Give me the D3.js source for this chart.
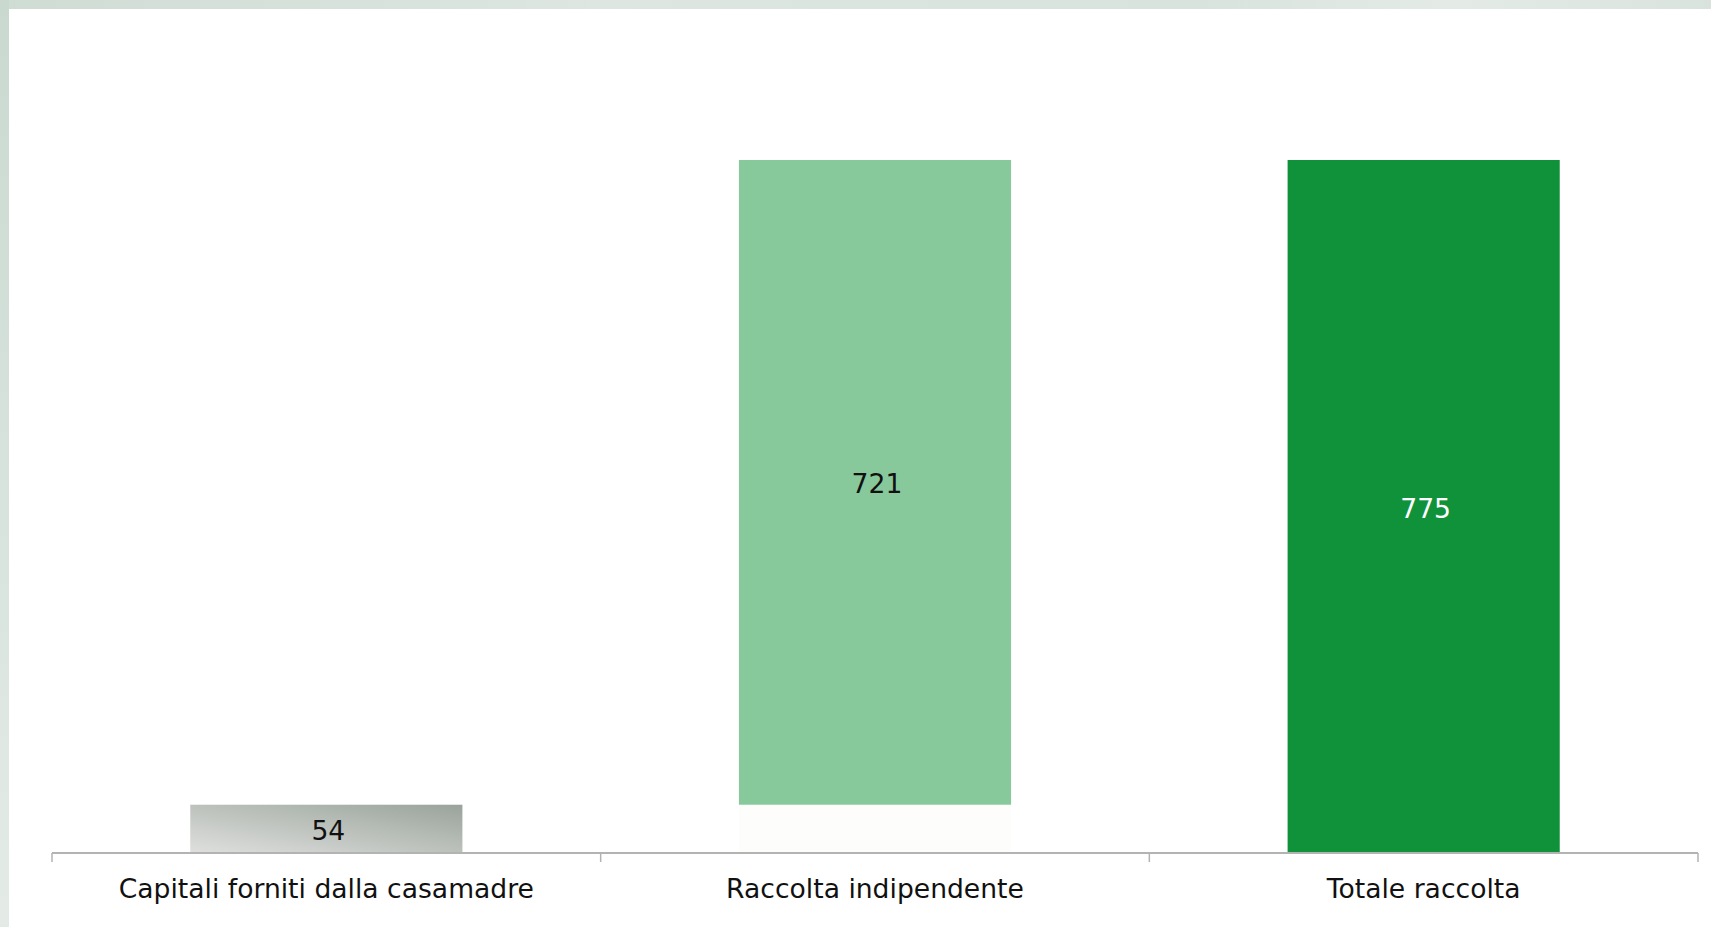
<!DOCTYPE html>
<html>
<head>
<meta charset="utf-8">
<script src="https://cdn.jsdelivr.net/npm/d3@7"></script>
<style>
html,body{margin:0;padding:0;background:#fff;overflow:hidden;}
svg{display:block;}
</style>
</head>
<body>
<svg id="chart" width="1711" height="927"></svg>
<script>
const categories = ["Capitali forniti dalla casamadre", "Raccolta indipendente", "Totale raccolta"];
const values = [54, 721, 775];
const bases = [0, 54, 0];
const barColors = ["url(#grayGrad)", "#88c99c", "#10923b"];
const labelColors = ["#111", "#111", "#ffffff"];

const W = 1711, H = 927;
const svg = d3.select("#chart");
const defs = svg.append("defs");

const lg = defs.append("linearGradient").attr("id", "leftStrip").attr("x1", 0).attr("y1", 0).attr("x2", 0).attr("y2", 1);
lg.append("stop").attr("offset", "0%").attr("stop-color", "#c9d9d0");
lg.append("stop").attr("offset", "100%").attr("stop-color", "#e4ebe7");

const tg = defs.append("linearGradient").attr("id", "topStrip").attr("x1", 0).attr("y1", 0).attr("x2", 1).attr("y2", 0);
tg.append("stop").attr("offset", "0%").attr("stop-color", "#cfdcd4");
tg.append("stop").attr("offset", "35%").attr("stop-color", "#dde6e1");
tg.append("stop").attr("offset", "70%").attr("stop-color", "#d8e3dd");
tg.append("stop").attr("offset", "85%").attr("stop-color", "#e4ebe7");
tg.append("stop").attr("offset", "100%").attr("stop-color", "#d9e3de");

const gg = defs.append("linearGradient").attr("id", "grayGrad").attr("x1", 0).attr("y1", 1).attr("x2", 1).attr("y2", 0);
gg.append("stop").attr("offset", "0%").attr("stop-color", "#dfe0de");
gg.append("stop").attr("offset", "100%").attr("stop-color", "#9aa39b");

// background frame
svg.append("rect").attr("x", 0).attr("y", 0).attr("width", W).attr("height", H).attr("fill", "#ffffff");
svg.append("rect").attr("x", 0).attr("y", 0).attr("width", W).attr("height", 9).attr("fill", "url(#topStrip)");
svg.append("rect").attr("x", 0).attr("y", 0).attr("width", 9).attr("height", H).attr("fill", "url(#leftStrip)");

const baseY = 853, topY = 160;
const x = d3.scaleBand().domain(categories).range([52, 1698]).paddingInner(0.504).paddingOuter(0.252);
const y = d3.scaleLinear().domain([0, 775]).range([baseY, topY]);

const g = svg.append("g");

// invisible base for floating bar
g.selectAll("rect.base").data(categories.filter((c, i) => bases[i] > 0)).join("rect")
  .attr("class", "base")
  .attr("x", d => x(d))
  .attr("width", x.bandwidth())
  .attr("y", d => y(bases[categories.indexOf(d)]))
  .attr("height", d => y(0) - y(bases[categories.indexOf(d)]))
  .attr("fill", "#fdfdfb");

g.selectAll("rect.bar").data(categories).join("rect")
  .attr("class", "bar")
  .attr("x", d => x(d))
  .attr("width", x.bandwidth())
  .attr("y", (d, i) => y(bases[i] + values[i]))
  .attr("height", (d, i) => y(bases[i]) - y(bases[i] + values[i]))
  .attr("fill", (d, i) => barColors[i]);

// value labels
g.selectAll("text.val").data(categories).join("text")
  .attr("class", "val")
  .attr("x", d => x(d) + x.bandwidth() / 2 + 2)
  .attr("y", (d, i) => (y(bases[i]) + y(bases[i] + values[i])) / 2 + 11)
  .attr("text-anchor", "middle")
  .attr("font-family", "DejaVu Sans, Verdana, sans-serif")
  .attr("font-size", 26.6)
  .attr("fill", (d, i) => labelColors[i])
  .text((d, i) => values[i]);

// axis
const axis = svg.append("g");
axis.append("line").attr("x1", x.range()[0]).attr("x2", x.range()[1]).attr("y1", baseY).attr("y2", baseY)
  .attr("stroke", "#b3b3b3").attr("stroke-width", 2);
const bounds = categories.map(c => x(c) - x.step() * x.paddingInner() / 2);
bounds[0] = x.range()[0];
bounds.push(x.range()[1]);
axis.selectAll("line.tick").data(bounds).join("line")
  .attr("class", "tick")
  .attr("x1", d => d).attr("x2", d => d)
  .attr("y1", baseY).attr("y2", baseY + 9)
  .attr("stroke", "#b3b3b3").attr("stroke-width", 1.5);
axis.selectAll("text.cat").data(categories).join("text")
  .attr("class", "cat")
  .attr("x", d => x(d) + x.bandwidth() / 2)
  .attr("y", 898)
  .attr("text-anchor", "middle")
  .attr("font-family", "DejaVu Sans, Verdana, sans-serif")
  .attr("font-size", 26.6)
  .attr("fill", "#111")
  .text(d => d);
</script>
</body>
</html>
